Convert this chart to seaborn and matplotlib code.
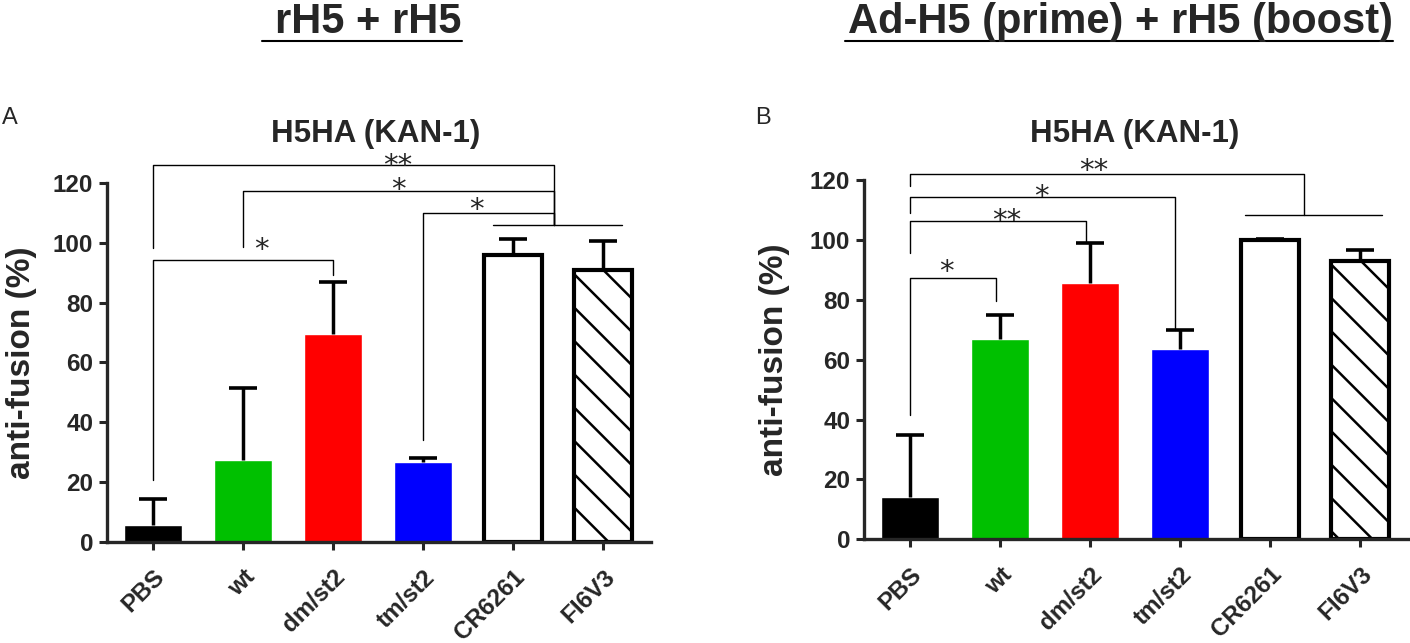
import matplotlib
matplotlib.use('Agg')
import matplotlib.pyplot as plt
from matplotlib.lines import Line2D
import numpy as np
import seaborn as sns
import pandas as pd

# Groups and colours (same for both panels)
categories = ['PBS', 'wt', 'dm/st2', 'tm/st2', 'CR6261', 'FI6V3']
bar_colors = ['#000000', '#00C000', '#FF0000', '#0000FF', '#FFFFFF', '#FFFFFF']

# Panel A: rH5 + rH5 (mean, upper SD)
rh5_means = [5.6, 27.4, 69.4, 26.7, 95.8, 91.0]
rh5_errs = [8.6, 24.2, 17.6, 1.4, 5.6, 9.5]

# Panel B: Ad-H5 (prime) + rH5 (boost)
adh5_means = [14.2, 66.9, 85.6, 63.5, 100.0, 93.0]
adh5_errs = [20.7, 7.9, 13.2, 6.5, 0.3, 3.5]

# significance brackets: (x left, x right, top, left leg end, right leg end)
brackets_a = [(0, 4.45, 126.1, 98.3, 105.9),
              (1, 4.45, 117.4, 98.5, 105.9),
              (3, 4.45, 110.1, 34.2, 105.9),
              (0, 2, 94.2, 20.5, 89.3)]
group_line_a = (3.78, 5.21, 105.9)
stars_a = [('**', 2.72, 128.4), ('*', 2.73, 120.3), ('*', 3.59, 113.6), ('*', 1.2, 100.3)]

brackets_b = [(0, 4.38, 122.0, 117.9, 108.2),
              (0, 2.94, 114.2, 109.0, 70.0),
              (0, 1.95, 106.4, 95.6, 99.0),
              (0, 0.96, 87.1, 41.6, 79.5)]
group_line_b = (3.72, 5.24, 108.2)
stars_b = [('**', 2.04, 125.7), ('*', 1.46, 117.0), ('**', 1.07, 109.0), ('*', 0.40, 92.0)]

sns.set_style('ticks')
plt.rcParams['font.family'] = ['Liberation Sans', 'DejaVu Sans']
plt.rcParams['hatch.linewidth'] = 1.8

STAR_SIZE = 21


def draw_panel(ax, means, errs, brackets, group_line, stars):
    df = pd.DataFrame({'group': categories, 'value': means})
    sns.barplot(data=df, x='group', y='value', hue='group', palette=bar_colors,
                legend=False, width=0.645, saturation=1, ax=ax)
    for p, name in zip(ax.patches, categories):
        if name in ('CR6261', 'FI6V3'):
            p.set_edgecolor('black')
            p.set_linewidth(3)
        if name == 'FI6V3':
            p.set_hatch('\\')
    xs = [p.get_x() + p.get_width() / 2 for p in ax.patches]
    eb = ax.errorbar(xs, means, yerr=[[0] * len(errs), errs], fmt='none', ecolor='black',
                     elinewidth=2.5, capsize=10.4, capthick=2.6, zorder=3)
    # upper error only: hide the caps sitting on the bar tops
    for cap in eb.lines[1]:
        if np.allclose(cap.get_ydata(), means):
            cap.set_visible(False)

    ax.set_xlim(-0.51, 5.53)
    ax.set_ylim(0, 120)
    ax.set_yticks(range(0, 121, 20))
    ax.set_xlabel('')
    ax.set_ylabel('')
    sns.despine(ax=ax)
    for s in ['left', 'bottom']:
        ax.spines[s].set_linewidth(2.4)
    ax.tick_params(width=2.2, length=6, labelsize=17.5, pad=4)
    ax.tick_params(axis='x', pad=11)
    ax.set_xticks(range(len(categories)))
    ax.set_xticklabels(categories, rotation=45, ha='right', rotation_mode='anchor',
                       fontweight='bold', fontsize=17.5)
    for t in ax.get_yticklabels():
        t.set_fontweight('bold')

    for x1, x2, top, yl, yr in brackets:
        ax.plot([x1, x1, x2, x2], [yl, top, top, yr], color='black', lw=1.0, clip_on=False)
    g0, g1, gy = group_line
    ax.plot([g0, g1], [gy, gy], color='black', lw=1.0, clip_on=False)
    # star glyph centre sits ~0.56 em above the baseline
    for s, x, y in stars:
        ax.annotate(s, (x, y), xytext=(0, -0.56 * STAR_SIZE), textcoords='offset points',
                    ha='center', va='baseline', fontsize=STAR_SIZE, family='DejaVu Sans',
                    annotation_clip=False)


fig = plt.figure(figsize=(14.1, 6.43), dpi=100)
ax_a = fig.add_axes([0.0759, 0.1574, 0.3858, 0.558])
ax_b = fig.add_axes([0.6128, 0.1613, 0.3858, 0.5588])

draw_panel(ax_a, rh5_means, rh5_errs, brackets_a, group_line_a, stars_a)
draw_panel(ax_b, adh5_means, adh5_errs, brackets_b, group_line_b, stars_b)

# y labels
fig.text(0.015, 0.4364, 'anti-fusion (%)', rotation=90, ha='center', va='center',
         fontsize=24, fontweight='bold')
fig.text(0.5496, 0.4407, 'anti-fusion (%)', rotation=90, ha='center', va='center',
         fontsize=24, fontweight='bold')

# panel titles
fig.text(376 / 1410, 1 - 142 / 643, 'H5HA (KAN-1)', ha='center', va='baseline',
         fontsize=22.5, fontweight='bold')
fig.text(1135 / 1410, 1 - 142 / 643, 'H5HA (KAN-1)', ha='center', va='baseline',
         fontsize=22.5, fontweight='bold')

# panel letters
fig.text(2 / 1410, 1 - 124 / 643, 'A', ha='left', va='baseline', fontsize=17)
fig.text(755 / 1410, 1 - 124 / 643, 'B', ha='left', va='baseline', fontsize=17)

# regimen headings with underline
fig.text(368 / 1410, 1 - 33 / 643, 'rH5 + rH5', ha='center', va='baseline',
         fontsize=30, fontweight='bold')
fig.add_artist(Line2D([262 / 1410, 462 / 1410], [1 - 41 / 643] * 2, color='black', lw=1.5))
fig.text(1120 / 1410, 1 - 33 / 643, 'Ad-H5 (prime) + rH5 (boost)', ha='center', va='baseline',
         fontsize=30, fontweight='bold')
fig.add_artist(Line2D([845 / 1410, 1393 / 1410], [1 - 41 / 643] * 2, color='black', lw=1.5))

fig.savefig('out.png', dpi=100)
